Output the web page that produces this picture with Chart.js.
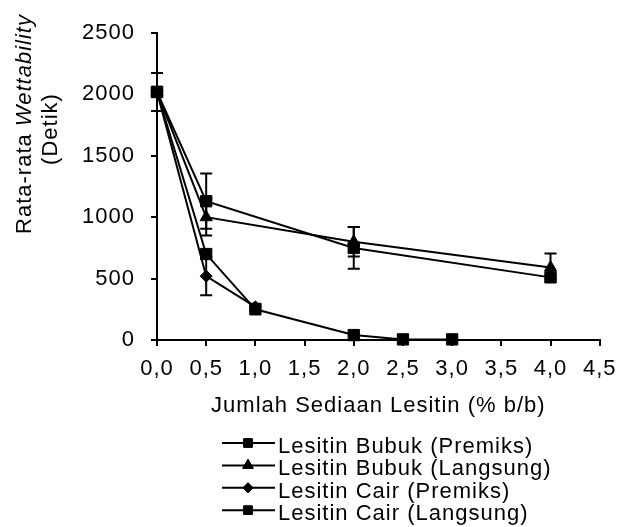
<!DOCTYPE html>
<html>
<head>
<meta charset="utf-8">
<script src="https://cdn.jsdelivr.net/npm/chart.js@4"></script>
<style>
  html, body { margin: 0; padding: 0; background: #fff; }
  #wrap { width: 625px; height: 527px; }
</style>
</head>
<body>
<div id="wrap"><canvas id="grafik"></canvas></div>
<script>
// Data
const xBubukPremiks = [0, 0.5, 2, 4];
const yBubukPremiks = [2020, 1130, 750, 510];
const errBubukPremiks = [155, 225, 170, 15];

const xBubukLangsung = [0, 0.5, 2, 4];
const yBubukLangsung = [2020, 1000, 800, 590];
const errBubukLangsung = [0, 150, 120, 115];

const xCairPremiks = [0, 0.5, 1];
const yCairPremiks = [2020, 520, 270];
const errCairPremiks = [0, 155, 25];

const xCairLangsung = [0, 0.5, 1, 2, 2.5, 3];
const yCairLangsung = [2020, 700, 250, 40, 5, 5];
const errCairLangsung = [0, 0, 0, 0, 0, 0];

const namaSeri = ['Lesitin Bubuk (Premiks)', 'Lesitin Bubuk (Langsung)', 'Lesitin Cair (Premiks)', 'Lesitin Cair (Langsung)'];
const xTickValues = [0, 0.5, 1, 1.5, 2, 2.5, 3, 3.5, 4, 4.5];
const xTickLabels = ['0,0', '0,5', '1,0', '1,5', '2,0', '2,5', '3,0', '3,5', '4,0', '4,5'];
const yTickLabels = ['0', '500', '1000', '1500', '2000', '2500'];

const FONT = "'Liberation Sans', Arial, sans-serif";

function titik(xs, ys) {
    return xs.map((x, i) => ({ x: x, y: ys[i] }));
}

function seri(label, xs, ys, errs, style, r) {
    return {
        label: label,
        data: titik(xs, ys),
        errors: errs,
        borderColor: '#000',
        backgroundColor: '#000',
        borderWidth: 2,
        pointStyle: style,
        pointRadius: r,
        pointBorderWidth: 1,
        pointBackgroundColor: '#000',
        pointBorderColor: '#000',
        clip: false,
        tension: 0
    };
}

// jarak huruf sedikit lebar seperti gambar asli
const spasiHuruf = {
    id: 'spasiHuruf',
    beforeDraw(chart) { chart.ctx.letterSpacing = '1px'; }
};

const errorBar = {
    id: 'errorBar',
    beforeDatasetsDraw(chart) {
        const ctx = chart.ctx;
        const xs = chart.scales.x, ys = chart.scales.y;
        ctx.save();
        ctx.strokeStyle = '#000';
        ctx.lineWidth = 2;
        chart.data.datasets.forEach(ds => {
            ds.data.forEach((p, i) => {
                const e = ds.errors[i];
                if (!e) return;
                const px = xs.getPixelForValue(p.x);
                const top = ys.getPixelForValue(p.y + e);
                const bot = ys.getPixelForValue(p.y - e);
                ctx.beginPath();
                ctx.moveTo(px, top); ctx.lineTo(px, bot);
                ctx.moveTo(px - 6, top); ctx.lineTo(px + 6, top);
                ctx.moveTo(px - 6, bot); ctx.lineTo(px + 6, bot);
                ctx.stroke();
            });
        });
        ctx.restore();
    }
};

const judulDanLegenda = {
    id: 'judulDanLegenda',
    afterDraw(chart) {
        const ctx = chart.ctx;
        const area = chart.chartArea;
        ctx.save();
        ctx.fillStyle = '#000';
        ctx.letterSpacing = '1px';

        // judul sumbu Y (dua baris, Wettability miring)
        const normal = '22px ' + FONT;
        const miring = 'italic 22px ' + FONT;
        ctx.font = normal;
        const w1 = ctx.measureText('Rata-rata ').width;
        ctx.font = miring;
        const w2 = ctx.measureText('Wettability').width;
        ctx.save();
        ctx.translate(31, 124);
        ctx.rotate(-Math.PI / 2);
        ctx.textBaseline = 'alphabetic';
        ctx.textAlign = 'left';
        ctx.font = normal;
        ctx.fillText('Rata-rata ', -(w1 + w2) / 2, 0);
        ctx.font = miring;
        ctx.fillText('Wettability', -(w1 + w2) / 2 + w1, 0);
        ctx.restore();
        ctx.save();
        ctx.translate(57, 129);
        ctx.rotate(-Math.PI / 2);
        ctx.font = normal;
        ctx.textAlign = 'center';
        ctx.fillText('(Detik)', 0, 0);
        ctx.restore();

        // judul sumbu X
        ctx.font = normal;
        ctx.textAlign = 'center';
        ctx.textBaseline = 'alphabetic';
        ctx.fillText('Jumlah Sediaan Lesitin (% b/b)', (area.left + area.right) / 2, 412);

        // legenda
        chart.data.datasets.forEach((ds, i) => {
            const base = 453 + i * 22.4;
            const ly = base - 10;
            ctx.strokeStyle = '#000';
            ctx.lineWidth = 2;
            ctx.beginPath();
            ctx.moveTo(222, ly); ctx.lineTo(275, ly);
            ctx.stroke();
            ctx.fillStyle = '#000';
            ctx.lineWidth = 1;
            Chart.helpers.drawPoint(ctx, {
                pointStyle: ds.pointStyle,
                radius: ds.pointStyle === 'rectRot' ? 5 : 6,
                rotation: 0,
                borderWidth: 1
            }, 248, ly);
            ctx.fill();
            ctx.stroke();
            ctx.textAlign = 'left';
            ctx.fillText(ds.label, 278, base);
        });
        ctx.restore();
    }
};

new Chart(document.getElementById('grafik'), {
    type: 'line',
    data: {
        datasets: [
            seri(namaSeri[0], xBubukPremiks, yBubukPremiks, errBubukPremiks, 'rect', 8),
            seri(namaSeri[1], xBubukLangsung, yBubukLangsung, errBubukLangsung, 'triangle', 7),
            seri(namaSeri[2], xCairPremiks, yCairPremiks, errCairPremiks, 'rectRot', 6),
            seri(namaSeri[3], xCairLangsung, yCairLangsung, errCairLangsung, 'rect', 8)
        ]
    },
    options: {
        responsive: true,
        maintainAspectRatio: false,
        animation: false,
        layout: { padding: { top: 33, right: 19, left: 0, bottom: 0 } },
        plugins: {
            legend: { display: false },
            tooltip: { enabled: false }
        },
        scales: {
            x: {
                type: 'linear',
                min: 0,
                max: 4.5,
                afterFit: s => { s.height = 187; },
                afterBuildTicks: s => { s.ticks = xTickValues.map(v => ({ value: v })); },
                border: { color: '#000', width: 2 },
                grid: { drawOnChartArea: false, drawTicks: true, tickLength: 6, color: '#000', lineWidth: 2 },
                ticks: {
                    color: '#000',
                    padding: 10,
                    maxRotation: 0,
                    font: { family: FONT, size: 22 },
                    callback: v => xTickLabels[xTickValues.indexOf(v)]
                }
            },
            y: {
                min: 0,
                max: 2500,
                afterFit: s => { s.width = 157; },
                border: { color: '#000', width: 2 },
                grid: { drawOnChartArea: false, drawTicks: true, tickLength: 6, color: '#000', lineWidth: 2 },
                ticks: {
                    color: '#000',
                    stepSize: 500,
                    padding: 16,
                    font: { family: FONT, size: 22 },
                    callback: v => yTickLabels[v / 500]
                }
            }
        }
    },
    plugins: [spasiHuruf, errorBar, judulDanLegenda]
});
</script>
</body>
</html>
